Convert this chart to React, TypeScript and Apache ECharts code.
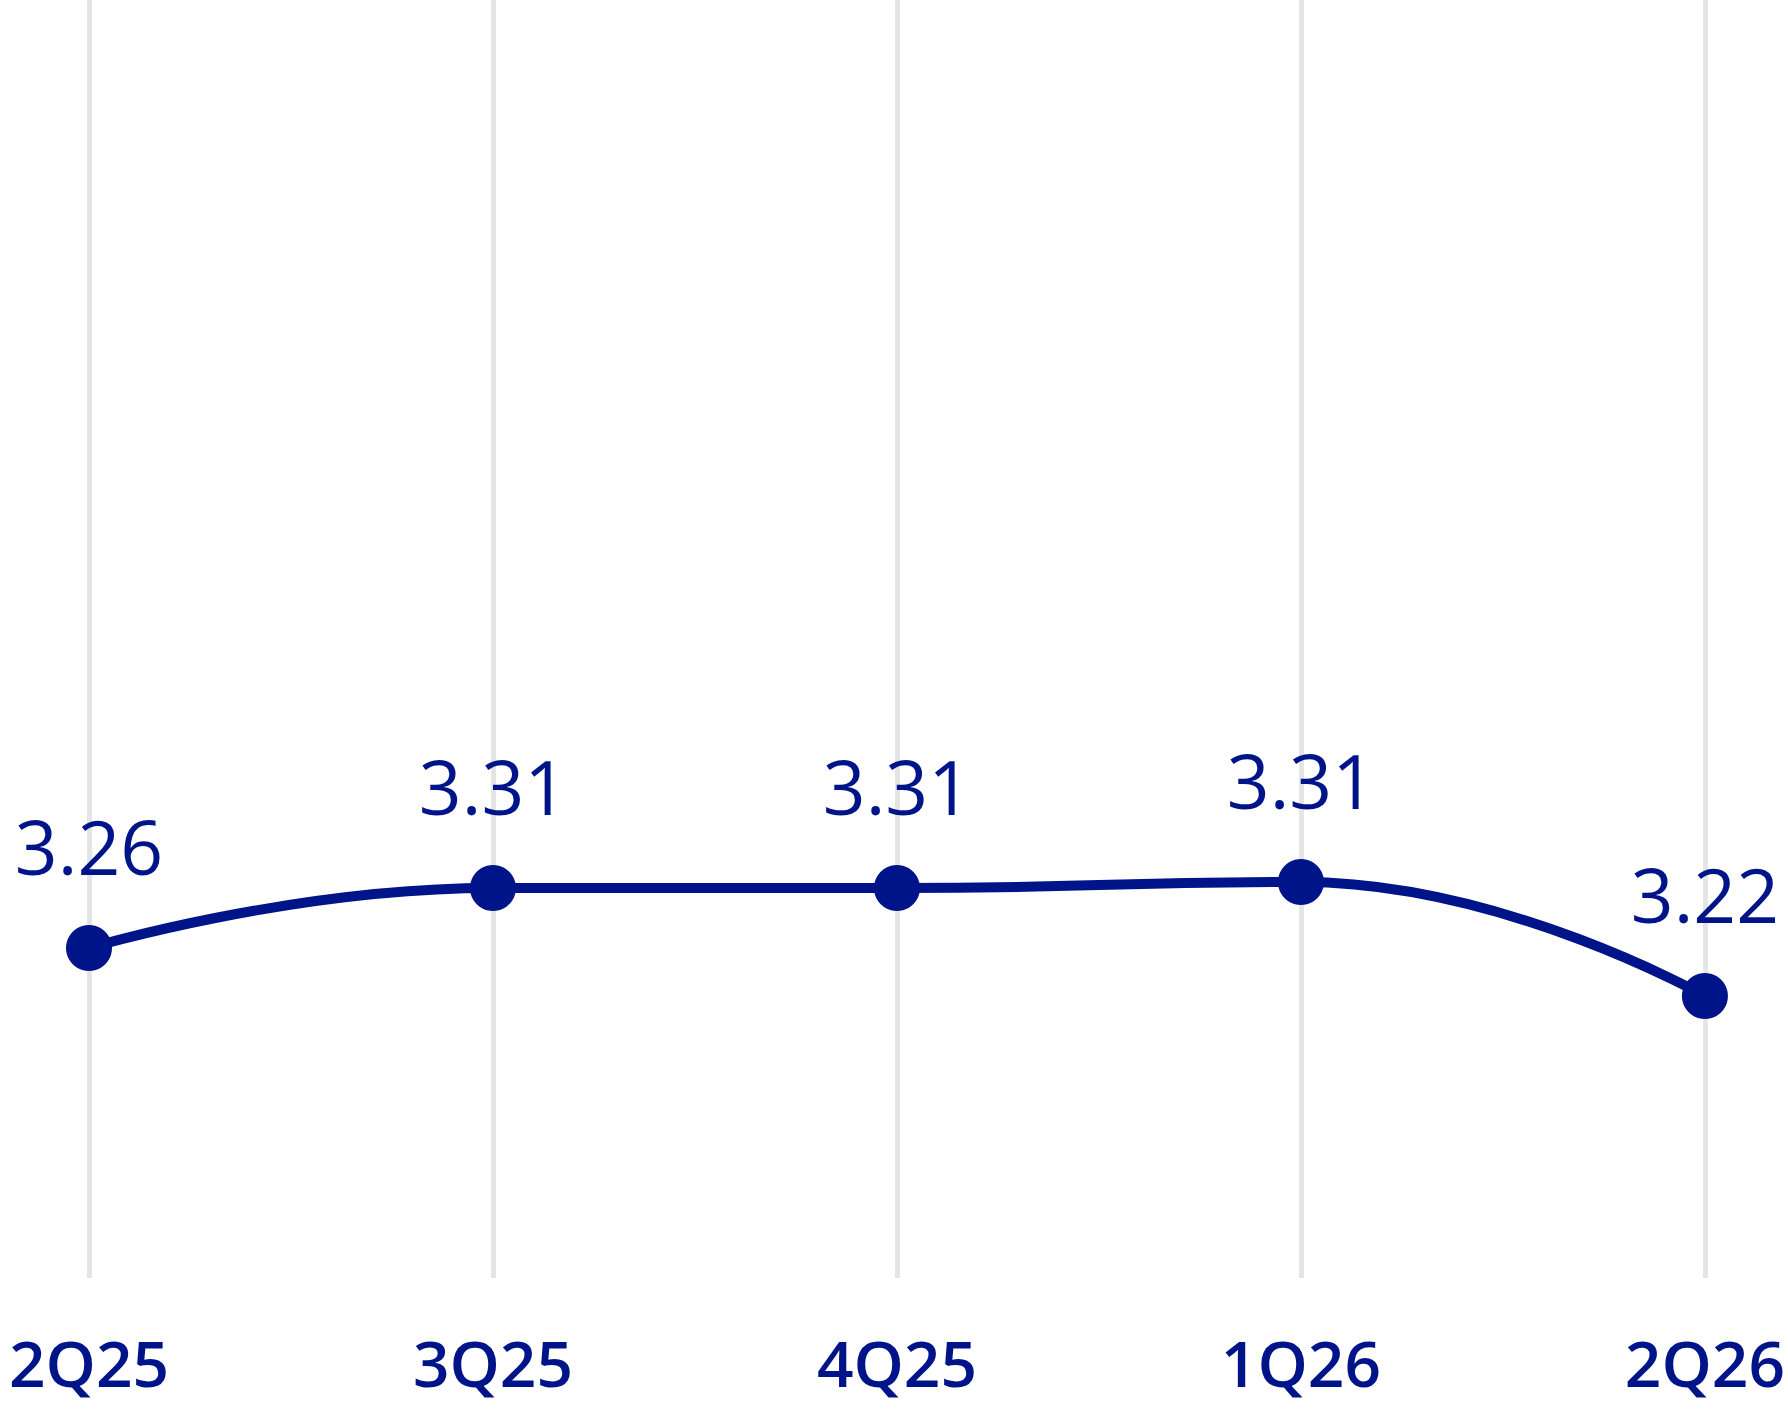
import { useEffect, useRef } from "react";
import * as echarts from "echarts";

const quarters = ["2Q25", "3Q25", "4Q25", "1Q26", "2Q26"];
const values = [3.26, 3.31, 3.31, 3.315, 3.22];

const NAVY = "#001489";

export default function App() {
  const chartRef = useRef<HTMLDivElement>(null);

  useEffect(() => {
    document.body.style.margin = "0";
    const myChart = echarts.init(chartRef.current!, null, { renderer: "svg" });

    const option = {
      animation: false,
      backgroundColor: "#ffffff",
      grid: { left: 89, right: 83, top: 0, bottom: 150 },
      xAxis: {
        type: "category",
        data: quarters,
        boundaryGap: false,
        axisLine: { show: false },
        axisTick: { show: false },
        splitLine: { show: true, lineStyle: { color: "#e5e5e5", width: 5 } },
        axisLabel: {
          color: NAVY,
          fontFamily: "Open Sans",
          fontWeight: 600,
          fontSize: 64,
          margin: 52,
        },
      },
      yAxis: {
        type: "value",
        min: 2.985,
        max: 4.05,
        show: false,
        splitLine: { show: false },
      },
      series: [
        {
          type: "line",
          data: values,
          smooth: 0.5,
          smoothMonotone: "x",
          symbol: "circle",
          symbolSize: 46,
          itemStyle: { color: NAVY },
          lineStyle: { color: NAVY, width: 10 },
          label: {
            show: true,
            position: "top",
            distance: 42,
            color: NAVY,
            fontFamily: "Open Sans",
            fontSize: 75,
            formatter: (p: any) => p.value.toFixed(2),
          },
        },
      ],
    };

    myChart.setOption(option);

    const handleResize = () => myChart.resize();
    window.addEventListener("resize", handleResize);

    return () => {
      window.removeEventListener("resize", handleResize);
      myChart.dispose();
    };
  }, []);

  return <div ref={chartRef} style={{ width: "1788px", height: "1428px" }} />;
}
